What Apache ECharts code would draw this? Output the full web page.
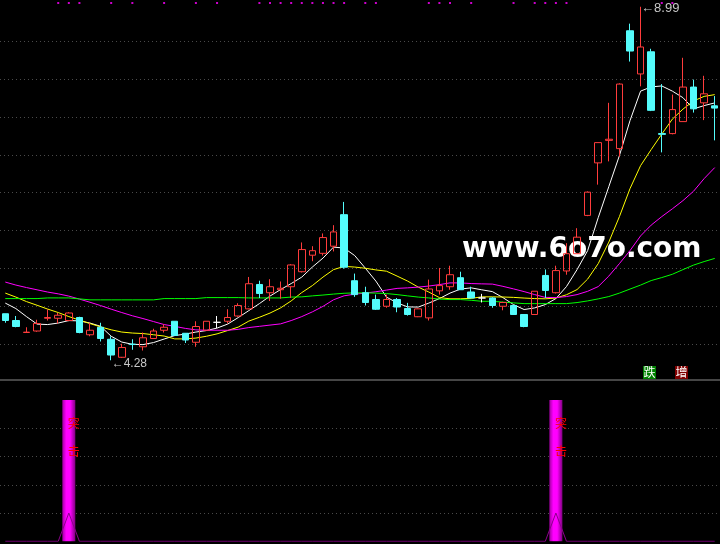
<!DOCTYPE html>
<html><head><meta charset="utf-8">
<script src="https://cdn.jsdelivr.net/npm/echarts@6/dist/echarts.min.js"></script>
<style>html,body{margin:0;padding:0;background:#000;}#c{width:720px;height:544px;}</style>
</head><body><div id="c"></div>
<script>
// ---- data ----
const categories = Array.from({length: 68}, (_, i) => 'D' + (i + 1));
const opens = [4.90,4.81,4.65,4.67,4.84,4.84,4.81,4.85,4.62,4.72, 4.56,4.32,4.495,4.46,4.57,4.68,4.80,4.64,4.52,4.68, 4.786,4.80,4.87,4.965,5.29,5.18,5.22,5.26,5.46,5.68, 5.705,5.80,6.22,5.34,5.18,5.09,5.00,5.09,4.97,4.86, 4.845,5.205,5.26,5.38,5.19,5.11,5.11,5.00,5.01,4.89, 4.89,5.41,5.18,5.47,5.70,6.21,6.91,7.21,7.10,8.67, 8.095,8.39,7.30,7.30,7.46,7.92,7.71,7.67];
const closes = [4.81,4.73,4.655,4.77,4.85,4.88,4.91,4.65,4.68,4.57, 4.35,4.45,4.49,4.58,4.67,4.72,4.61,4.55,4.73,4.80, 4.786,4.85,5.01,5.30,5.17,5.26,5.24,5.55,5.755,5.74, 5.915,5.99,5.52,5.155,5.05,4.96,5.09,4.99,4.89,4.965, 5.23,5.275,5.42,5.22,5.11,5.11,5.01,5.05,4.89,4.73, 5.20,5.21,5.475,5.70,5.92,6.52,7.18,7.225,7.96,8.40, 8.454,7.61,7.29,7.62,7.92,7.63,7.83,7.64];
const lows = [4.78,4.72,4.645,4.66,4.81,4.77,4.80,4.64,4.60,4.53, 4.28,4.31,4.42,4.41,4.565,4.65,4.605,4.51,4.46,4.68, 4.71,4.77,4.86,4.96,5.11,5.07,5.10,5.11,5.45,5.60, 5.675,5.73,5.50,5.125,5.01,4.95,4.98,4.92,4.875,4.855, 4.81,5.155,5.22,5.22,5.11,5.05,4.98,4.946,4.885,4.72, 4.89,5.11,5.17,5.42,5.70,6.20,6.62,6.93,6.99,8.26, 7.93,7.60,7.05,7.29,7.46,7.58,7.48,7.21];
const highs = [4.90,4.87,4.72,4.82,4.96,4.91,4.92,4.86,4.78,4.78, 4.60,4.50,4.56,4.65,4.70,4.76,4.80,4.64,4.80,4.80, 4.87,4.96,5.04,5.39,5.34,5.36,5.33,5.56,5.85,5.80, 5.97,6.08,6.39,5.435,5.26,5.155,5.155,5.11,5.045,4.97, 5.355,5.51,5.54,5.46,5.26,5.165,5.12,5.06,5.01,4.89, 5.20,5.49,5.54,5.84,6.04,6.53,7.18,7.71,7.97,8.765, 8.99,8.43,7.96,7.82,8.31,8.02,8.07,7.80];
const ma5 = [5.042,4.969,4.862,4.762,4.756,4.776,4.809,4.805,4.776,4.733, 4.600,4.523,4.493,4.489,4.516,4.563,4.609,4.629,4.656,4.676, 4.709,4.762,4.849,4.942,5.035,5.135,5.222,5.302,5.388,5.522, 5.641,5.788,5.775,5.675,5.508,5.335,5.122,5.045,4.991,4.989, 5.042,5.102,5.175,5.229,5.245,5.219,5.195,5.115,5.022,4.956, 4.978,5.022,5.102,5.262,5.488,5.741,6.181,6.594,7.007,7.473, 7.866,7.922,7.935,7.866,7.779,7.629,7.673,7.709];
const ma10 = [5.175,5.122,5.062,5.013,4.962,4.916,4.862,4.816,4.769,4.725, 4.686,4.656,4.643,4.636,4.620,4.603,4.565,4.565,4.576,4.600, 4.632,4.676,4.722,4.802,4.853,4.909,4.978,5.071,5.182,5.275, 5.388,5.488,5.531,5.522,5.506,5.484,5.467,5.402,5.335,5.255, 5.189,5.115,5.099,5.099,5.105,5.125,5.125,5.123,5.118,5.109, 5.102,5.099,5.109,5.153,5.222,5.362,5.568,5.855,6.194,6.567, 6.873,7.087,7.293,7.493,7.626,7.735,7.796,7.819];
const ma20 = [5.322,5.282,5.249,5.219,5.189,5.165,5.135,5.095,5.053,5.009, 4.961,4.916,4.873,4.836,4.796,4.756,4.732,4.705,4.685,4.680, 4.680,4.680,4.692,4.716,4.732,4.749,4.765,4.809,4.862,4.925, 4.998,5.086,5.139,5.161,5.175,5.193,5.215,5.238,5.245,5.255, 5.269,5.288,5.311,5.311,5.302,5.298,5.295,5.265,5.231,5.195, 5.155,5.118,5.115,5.129,5.155,5.199,5.262,5.402,5.568,5.741, 5.937,6.081,6.194,6.298,6.407,6.532,6.700,6.847];
const ma60 = [5.102,5.102,5.102,5.102,5.111,5.111,5.111,5.098,5.085,5.085, 5.085,5.085,5.085,5.085,5.085,5.102,5.102,5.102,5.102,5.115, 5.115,5.115,5.115,5.111,5.111,5.111,5.111,5.122,5.125,5.138, 5.149,5.162,5.173,5.178,5.178,5.175,5.169,5.155,5.138,5.122, 5.111,5.095,5.089,5.089,5.079,5.066,5.066,5.055,5.045,5.035, 5.035,5.035,5.035,5.035,5.049,5.071,5.098,5.129,5.175,5.229, 5.282,5.342,5.382,5.426,5.488,5.548,5.595,5.637];
const topSignals = [5,6,7,10,12,15,18,20,24,25,26,27,28,29,30,31,32,34,35,40,41,42,44,48,50,51,52,53,62,63];
const buySignals = [6, 52];
const buyText = '突\n\n击';
const signalBarValue = 5;
const signalPeakValue = 1;
const topDotLevel = 9.04;

// ---- derived series ----
const candle = categories.map((_, i) => [opens[i], closes[i], lows[i], highs[i]]);
const barData = categories.map((_, i) => buySignals.includes(i) ? signalBarValue : '-');
const peakData = categories.map((_, i) => buySignals.includes(i) ? signalPeakValue : 0);
const dotData = topSignals.map(i => [i, topDotLevel]);

const gridLine = {show: true, lineStyle: {color: '#4a4a4a', type: [1, 3], width: 1}};
const hiddenAxisParts = {axisLine: {show: false}, axisTick: {show: false}, axisLabel: {show: false}};

const chart = echarts.init(document.getElementById('c'), null, {renderer: 'canvas'});
chart.setOption({
  backgroundColor: '#000000',
  animation: false,
  grid: [
    {left: -1, right: 0, top: 0, height: 381.3},
    {left: -1, right: 0, top: 400, height: 141.3},
    {left: 0, right: 0, top: 41.3, height: 302.7}
  ],
  xAxis: [
    {type: 'category', data: categories, gridIndex: 0, show: false},
    {type: 'category', data: categories, gridIndex: 1, show: false},
    {type: 'value', gridIndex: 2, min: 0, max: 1, show: false}
  ],
  yAxis: [
    {type: 'value', gridIndex: 0, min: 4, max: 9.08, show: false},
    Object.assign({type: 'value', gridIndex: 1, min: 0, max: 5, interval: 1,
      splitLine: Object.assign({showMinLine: false, showMaxLine: false}, gridLine)}, hiddenAxisParts),
    Object.assign({type: 'value', gridIndex: 2, min: 0, max: 8, interval: 1, splitLine: gridLine}, hiddenAxisParts)
  ],
  graphic: [
    {type: 'text', x: 462, y: 250, z: 0, silent: true,
      style: {text: 'www.6o7o.com', font: 'bold 28px "DejaVu Sans"', fill: '#ffffff', verticalAlign: 'middle'}},
    {type: 'line', z: 5, silent: true, shape: {x1: 0, y1: 380, x2: 720, y2: 380},
      style: {stroke: '#464646', lineWidth: 2}},
    {type: 'text', x: 643, y: 366, z: 5, silent: true,
      style: {text: '跌', font: '12px "Noto Sans CJK SC"', fill: '#ffffff', backgroundColor: '#008000', padding: [0, 0.5], lineHeight: 13}},
    {type: 'text', x: 675, y: 366, z: 5, silent: true,
      style: {text: '增', font: '12px "Noto Sans CJK SC"', fill: '#ffffff', backgroundColor: '#800000', padding: [0, 0.5], lineHeight: 13}}
  ],
  series: [
    {name: 'MA5', type: 'line', data: ma5, symbol: 'none', z: 1, lineStyle: {color: '#ffffff', width: 1}},
    {name: 'MA10', type: 'line', data: ma10, symbol: 'none', z: 1, lineStyle: {color: '#ffff00', width: 1}},
    {name: 'MA20', type: 'line', data: ma20, symbol: 'none', z: 1, lineStyle: {color: '#ff00ff', width: 1}},
    {name: 'MA60', type: 'line', data: ma60, symbol: 'none', z: 1, lineStyle: {color: '#00ff00', width: 1}},
    {name: 'K', type: 'candlestick', data: candle, barWidth: 7, z: 3,
      itemStyle: {color: 'transparent', color0: '#54fcfc', borderColor: '#ff3c3c', borderColor0: '#54fcfc', borderColorDoji: '#ffffff', borderWidth: 1},
      markPoint: {
        symbol: 'circle', symbolSize: 1, itemStyle: {color: 'transparent'},
        label: {show: true, position: 'right', distance: 0, color: '#c8c8c8', fontSize: 12, fontFamily: 'Liberation Sans',
          formatter: p => '←' + Number(p.value).toFixed(2)},
        data: [
          {type: 'max', valueDim: 'highest', label: {offset: [0, 2], fontSize: 13}},
          {type: 'min', valueDim: 'lowest', label: {offset: [0, 3]}}
        ]
      }
    },
    {name: 'top', type: 'scatter', data: dotData, symbol: 'rect', symbolSize: 2, z: 4, itemStyle: {color: '#ff00ff'}},
    {name: 'buy', type: 'bar', xAxisIndex: 1, yAxisIndex: 1, data: barData, barWidth: 13, z: 2,
      itemStyle: {color: new echarts.graphic.LinearGradient(0, 0, 1, 0, [
        {offset: 0, color: '#a000a0'}, {offset: 0.3, color: '#ff00ff'}, {offset: 0.6, color: '#ff00ff'}, {offset: 1, color: '#800080'}])},
      label: {show: true, position: [5.5, 16.5], formatter: buyText, color: '#ff0000', fontSize: 12, lineHeight: 14,
        fontFamily: 'Noto Sans CJK SC', align: 'left', verticalAlign: 'top'}},
    {name: 'peak', type: 'line', xAxisIndex: 1, yAxisIndex: 1, data: peakData, symbol: 'none', z: 3,
      lineStyle: {color: '#8b008b', width: 1}}
  ]
});
</script>
</body></html>
